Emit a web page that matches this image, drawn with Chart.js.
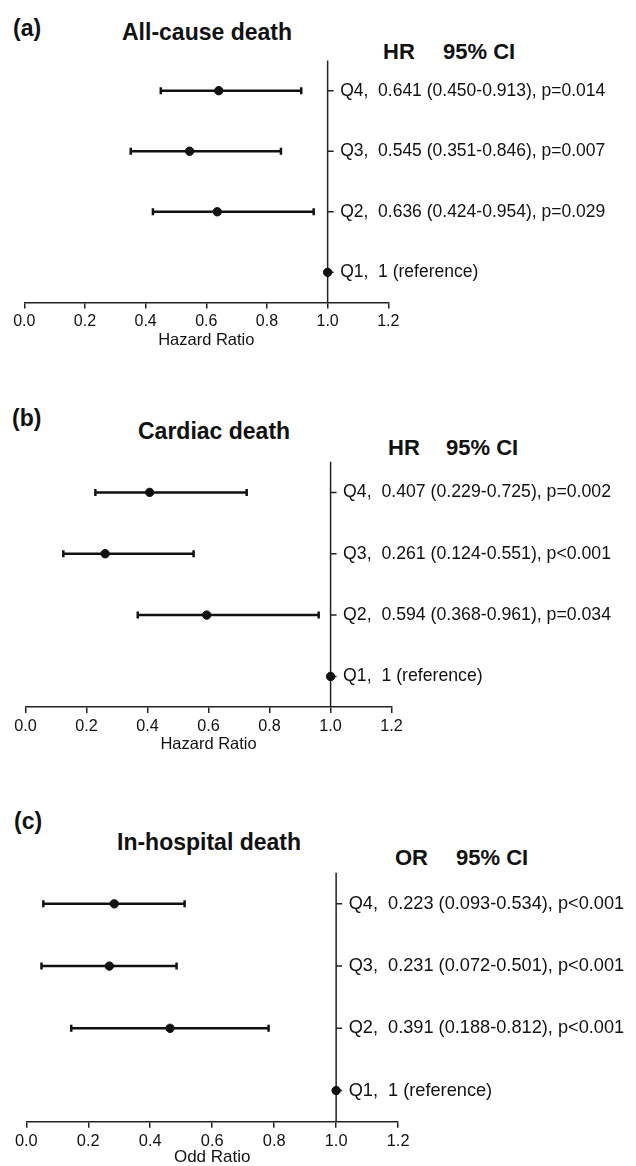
<!DOCTYPE html>
<html>
<head>
<meta charset="utf-8">
<script src="https://cdn.jsdelivr.net/npm/chart.js@4.4.1/dist/chart.umd.min.js"></script>
<style>
  html, body { margin: 0; padding: 0; background: #fff; overflow: hidden; }
  body { width: 636px; height: 1166px; position: relative; font-family: "Liberation Sans", Arial, sans-serif; color: #111; }
  canvas { position: absolute; left: 0; }
  .t { position: absolute; font-weight: bold; line-height: 1; white-space: nowrap; }
</style>
</head>
<body>

<!-- (a) -->
<div class="t" style="left:13px;top:17px;font-size:23px">(a)</div>
<div class="t" style="left:122px;top:21px;font-size:23px">All-cause death</div>
<div class="t" style="left:383px;top:41px;font-size:22px">HR</div>
<div class="t" style="left:443px;top:41px;font-size:22px">95% CI</div>
<canvas id="chartA" width="636" height="350" style="top:0px"></canvas>

<!-- (b) -->
<div class="t" style="left:12px;top:407px;font-size:23px">(b)</div>
<div class="t" style="left:138px;top:420px;font-size:23px">Cardiac death</div>
<div class="t" style="left:388px;top:437px;font-size:22px">HR</div>
<div class="t" style="left:446px;top:437px;font-size:22px">95% CI</div>
<canvas id="chartB" width="636" height="374" style="top:380px"></canvas>

<!-- (c) -->
<div class="t" style="left:14px;top:810px;font-size:23px">(c)</div>
<div class="t" style="left:117px;top:831px;font-size:23px">In-hospital death</div>
<div class="t" style="left:395px;top:847px;font-size:22px">OR</div>
<div class="t" style="left:456px;top:847px;font-size:22px">95% CI</div>
<canvas id="chartC" width="636" height="378" style="top:790px"></canvas>

<script>
// =====================
// DATA
// =====================
const rows = ["Q4", "Q3", "Q2", "Q1"];
const xTicks = [0, 0.2, 0.4, 0.6, 0.8, 1.0, 1.2];

// (a) all-cause death
const allCauseHR   = [0.641, 0.545, 0.636, 1];
const allCauseLow  = [0.450, 0.351, 0.424, null];
const allCauseHigh = [0.913, 0.846, 0.954, null];
const allCauseText = [
  "Q4,  0.641 (0.450-0.913), p=0.014",
  "Q3,  0.545 (0.351-0.846), p=0.007",
  "Q2,  0.636 (0.424-0.954), p=0.029",
  "Q1,  1 (reference)"
];

// (b) cardiac death
const cardiacHR   = [0.407, 0.261, 0.594, 1];
const cardiacLow  = [0.229, 0.124, 0.368, null];
const cardiacHigh = [0.725, 0.551, 0.961, null];
const cardiacText = [
  "Q4,  0.407 (0.229-0.725), p=0.002",
  "Q3,  0.261 (0.124-0.551), p<0.001",
  "Q2,  0.594 (0.368-0.961), p=0.034",
  "Q1,  1 (reference)"
];

// (c) in-hospital death (marks as drawn in the figure)
const hospitalOR   = [0.284, 0.268, 0.464, 1];
const hospitalLow  = [0.055, 0.049, 0.145, null];
const hospitalHigh = [0.511, 0.485, 0.782, null];
const hospitalText = [
  "Q4,  0.223 (0.093-0.534), p<0.001",
  "Q3,  0.231 (0.072-0.501), p<0.001",
  "Q2,  0.391 (0.188-0.812), p<0.001",
  "Q1,  1 (reference)"
];

const FONT = '"Liberation Sans", Arial, sans-serif';
const INK = "#111";

// =====================
// REFERENCE LINE + ROW LABELS
// =====================
function refLine(text, size) {
  return {
    id: "refLine",
    beforeDatasetsDraw(chart) {
      const { ctx, chartArea, scales: { x, y } } = chart;
      const px = x.getPixelForValue(1);
      ctx.save();
      ctx.strokeStyle = "#222";
      ctx.lineWidth = 1.5;
      ctx.beginPath();
      ctx.moveTo(px, chartArea.top);
      ctx.lineTo(px, chartArea.bottom);
      rows.forEach((r, i) => {
        const py = y.getPixelForValue(i);
        ctx.moveTo(px, py);
        ctx.lineTo(px + 6, py);
      });
      ctx.stroke();
      ctx.fillStyle = INK;
      ctx.font = size + "px " + FONT;
      ctx.textBaseline = "middle";
      ctx.textAlign = "left";
      rows.forEach((r, i) => {
        ctx.fillText(text[i], px + 12.5, y.getPixelForValue(i));
      });
      ctx.restore();
    }
  };
}

// =====================
// FOREST PLOT
// =====================
function forest(id, est, low, high, text, axisTitle, lay) {
  const ciSets = [];
  rows.forEach((r, i) => {
    if (low[i] == null) return;
    ciSets.push({
      data: [{ x: low[i], y: r }, { x: high[i], y: r }],
      showLine: true,
      borderColor: INK,
      borderWidth: 2.5,
      pointStyle: "line",
      pointRotation: 90,
      pointRadius: 3.5,
      pointBorderWidth: 2.5,
      pointBorderColor: INK,
      order: 2
    });
  });

  const points = {
    data: rows.map((r, i) => ({ x: est[i], y: r })),
    pointStyle: "circle",
    pointRadius: 4.2,
    pointBackgroundColor: INK,
    pointBorderColor: INK,
    pointBorderWidth: 1,
    showLine: false,
    order: 1
  };

  new Chart(document.getElementById(id), {
    type: "scatter",
    data: { datasets: [points, ...ciSets] },
    options: {
      responsive: false,
      animation: false,
      layout: { padding: { left: lay.left, right: lay.right, top: lay.top, bottom: 0 } },
      plugins: {
        legend: { display: false },
        tooltip: { enabled: false }
      },
      scales: {
        x: {
          type: "linear",
          min: 0,
          max: 1.2,
          afterBuildTicks: s => { s.ticks = xTicks.map(v => ({ value: v })); },
          afterFit: s => { s.height = lay.scaleH; },
          border: { color: "#222", width: 1.5 },
          grid: { drawOnChartArea: false, drawTicks: true, tickLength: 6, color: "#222", lineWidth: 1.5 },
          ticks: {
            padding: 3.8,
            color: INK,
            autoSkip: false,
            maxRotation: 0,
            font: { family: FONT, size: lay.tick },
            callback: v => Number(v).toFixed(1)
          },
          title: {
            display: true,
            text: axisTitle,
            color: INK,
            padding: 0,
            font: { family: FONT, size: lay.title }
          }
        },
        y: {
          type: "category",
          labels: rows,
          offset: true,
          display: false
        }
      }
    },
    plugins: [refLine(text, lay.label)]
  });
}

forest("chartA", allCauseHR, allCauseLow, allCauseHigh, allCauseText, "Hazard Ratio",
  { left: 24.3, right: 247.7, top: 60.4, scaleH: 47.4, tick: 16, label: 17.5, title: 16.5 });

forest("chartB", cardiacHR, cardiacLow, cardiacHigh, cardiacText, "Hazard Ratio",
  { left: 25.5, right: 244.4, top: 81.7, scaleH: 46.9, tick: 16.2, label: 17.7, title: 16.5 });

forest("chartC", hospitalOR, hospitalLow, hospitalHigh, hospitalText, "Odd Ratio",
  { left: 26.3, right: 237.9, top: 82.7, scaleH: 46.3, tick: 16.4, label: 18.2, title: 17 });
</script>
</body>
</html>
